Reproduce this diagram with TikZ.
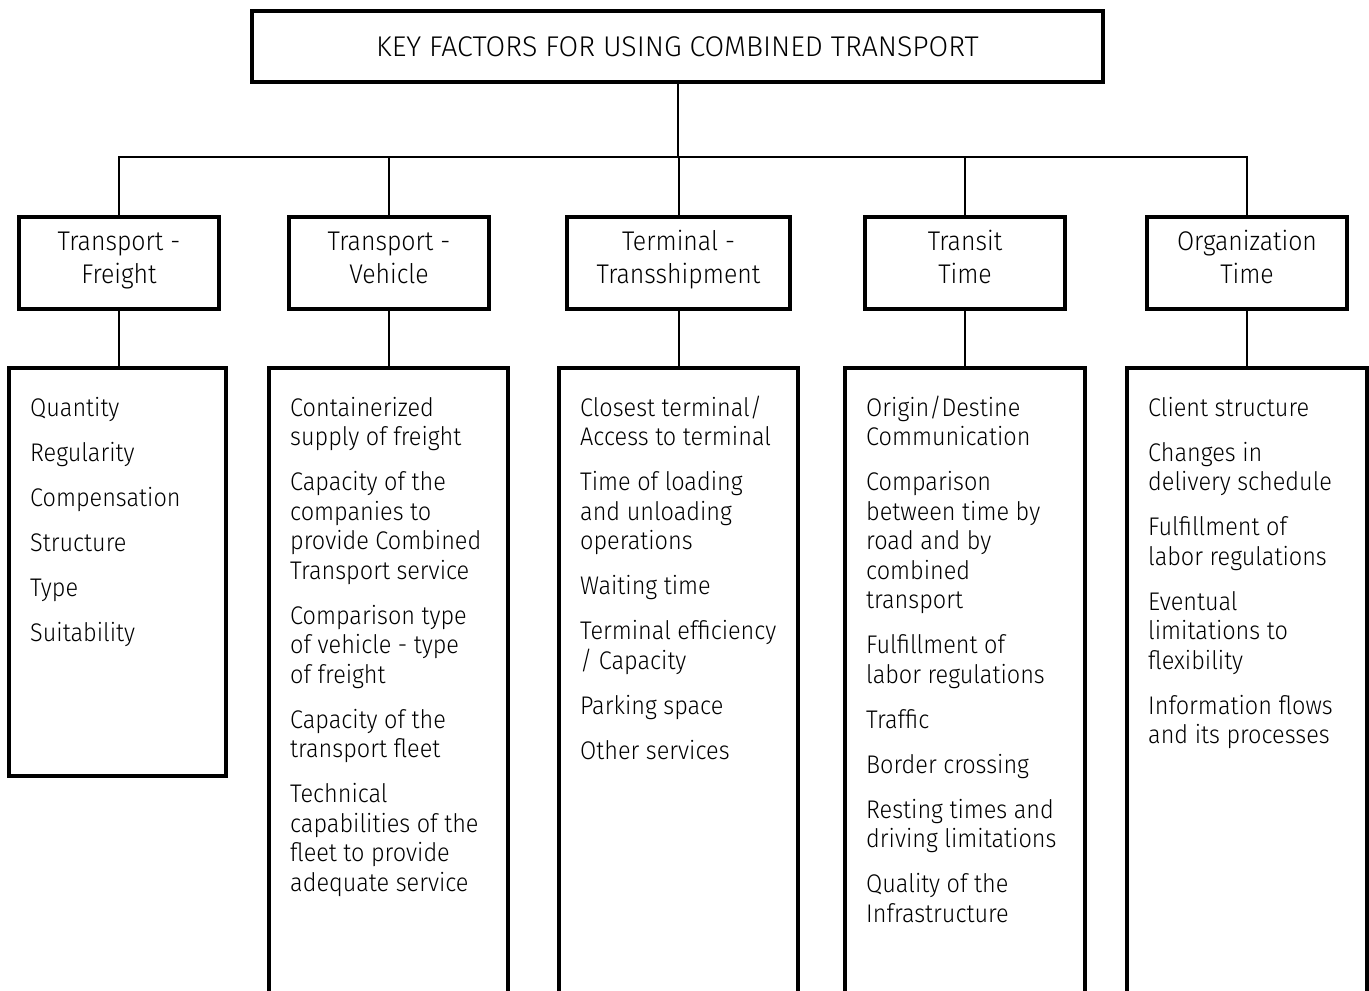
\documentclass[tikz,border=0pt]{standalone}
\usepackage{fontspec}
\setmainfont{Fira Sans Light}
\newfontfamily\narrowfont{Fira Sans Light}[FakeStretch=0.92]
\begin{document}
\begin{tikzpicture}[x=1pt,y=-1pt,
  frame/.style={draw=black,line width=4pt,inner sep=0pt,outer sep=0pt},
  link/.style={draw=black,line width=2pt},
  headtext/.style={align=center,inner sep=0pt,
    font=\narrowfont\fontsize{27}{33}\selectfont},
  itemtext/.style={anchor=north west,align=left,inner sep=0pt,
    font=\narrowfont\fontsize{25.5}{29.5}\selectfont}]
\useasboundingbox (0,0) rectangle (1369,991);
\clip (0,0) rectangle (1369,991);

% top box
\node[frame,minimum width=851pt,minimum height=71pt,
  font=\fontsize{28.5}{34}\selectfont] (title) at (677.5,46.5)
  {KEY FACTORS FOR USING COMBINED TRANSPORT};

% second level
\node[frame,minimum width=200pt,minimum height=92pt] (h1) at (119,263) {};
\node[frame,minimum width=200pt,minimum height=92pt] (h2) at (389,263) {};
\node[frame,minimum width=223pt,minimum height=92pt] (h3) at (678.5,263) {};
\node[frame,minimum width=200pt,minimum height=92pt] (h4) at (965,263) {};
\node[frame,minimum width=200pt,minimum height=92pt] (h5) at (1247,263) {};

\node[headtext] (t1) at (119,259.9) {\strut Transport -\\\strut Freight};
\node[headtext] (t2) at (389,259.9) {\strut Transport -\\\strut Vehicle};
\node[headtext] (t3) at (678.5,259.9) {\strut Terminal -\\\strut Transshipment};
\node[headtext] (t4) at (965,259.9) {\strut Transit\\\strut Time};
\node[headtext] (t5) at (1247,259.9) {\strut Organization\\\strut Time};

% third level
\node[frame,anchor=north,minimum width=217pt,minimum height=408pt] (c1) at (117.5,368) {};
\node[frame,anchor=north,minimum width=239pt,minimum height=660pt] (c2) at (388.5,368) {};
\node[frame,anchor=north,minimum width=239pt,minimum height=660pt] (c3) at (678.5,368) {};
\node[frame,anchor=north,minimum width=240pt,minimum height=660pt] (c4) at (965,368) {};
\node[frame,anchor=north,minimum width=240pt,minimum height=660pt] (c5) at (1247,368) {};

% connectors
\coordinate (bus) at (678,157);
\draw[link] (title.south) -- (title.south |- bus);
\draw[link] (h1.north) -- (h1.north |- bus) -- (h5.north |- bus) -- (h5.north);
\foreach \i in {2,3,4} {\draw[link] (h\i.north) -- (h\i.north |- bus);}
\foreach \i in {1,...,5} {\draw[link] (h\i.south) -- (h\i.south |- c\i.north);}

% lists
\node[itemtext] (l1) at (30,395.5) {\strut Quantity\\[15.5pt]
  Regularity\\[15.5pt]
  Compensation\\[15.5pt]
  Structure\\[15.5pt]
  Type\\[15.5pt]
  Suitability};
\node[itemtext] (l2) at (290,395.5) {\strut Containerized\\supply of freight\\[15.5pt]
  Capacity of the\\companies to\\provide Combined\\Transport service\\[15.5pt]
  Comparison type\\of vehicle - type\\of freight\\[15.5pt]
  Capacity of the\\transport fleet\\[15.5pt]
  Technical\\capabilities of the\\fleet to provide\\adequate service};
\node[itemtext] (l3) at (580,395.5) {\strut Closest terminal/\\Access to terminal\\[15.5pt]
  Time of loading\\and unloading\\operations\\[15.5pt]
  Waiting time\\[15.5pt]
  Terminal efficiency\\/ Capacity\\[15.5pt]
  Parking space\\[15.5pt]
  Other services};
\node[itemtext] (l4) at (866,395.5) {\strut Origin/Destine\\Communication\\[15.5pt]
  Comparison\\between time by\\road and by\\combined\\transport\\[15.5pt]
  Fulfillment of\\labor regulations\\[15.5pt]
  Traffic\\[15.5pt]
  Border crossing\\[15.5pt]
  Resting times and\\driving limitations\\[15.5pt]
  Quality of the\\Infrastructure};
\node[itemtext] (l5) at (1148,395.5) {\strut Client structure\\[15.5pt]
  Changes in\\delivery schedule\\[15.5pt]
  Fulfillment of\\labor regulations\\[15.5pt]
  Eventual\\limitations to\\flexibility\\[15.5pt]
  Information flows\\and its processes};
\end{tikzpicture}
\end{document}
